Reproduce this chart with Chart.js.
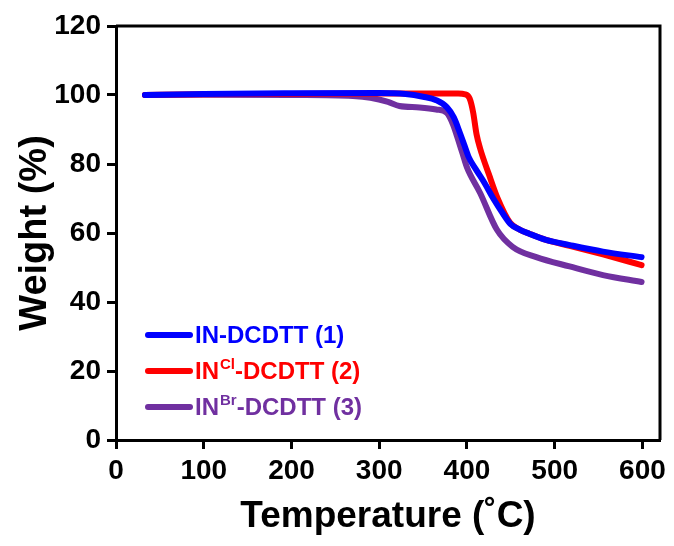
<!DOCTYPE html>
<html>
<head>
<meta charset="utf-8">
<title>TGA curves</title>
<script src="https://cdn.jsdelivr.net/npm/chart.js@4.4.1/dist/chart.umd.min.js"></script>
<style>
  html, body { margin: 0; padding: 0; background: #fff; }
  #wrap { width: 674px; height: 546px; }
</style>
</head>
<body>
<div id="wrap"><canvas id="tga"></canvas></div>
<script>
// Data
const xTicks = [0, 100, 200, 300, 400, 500, 600];

const tempBlue = [33, 100, 200, 300, 330, 350, 365, 377, 385, 392, 397, 402, 410, 420, 430, 440, 450, 460, 471, 490, 517, 555, 599];
const weightBlue = [100, 100.3, 100.5, 100.6, 100.3, 99.5, 98.5, 96.5, 93.5, 89, 85.5, 82, 78.5, 74.5, 70, 66, 62.5, 61, 59.8, 58, 56.5, 54.6, 53];

const tempRed = [33, 100, 200, 300, 350, 390, 398, 403, 407, 411, 415, 425, 435, 449, 460, 471, 490, 517, 555, 599];
const weightRed = [100, 100.2, 100.3, 100.4, 100.4, 100.4, 100.2, 99, 95, 88.5, 84.5, 77, 70, 63, 61, 59.8, 58, 56.3, 53.8, 50.7];

const tempPurple = [33, 100, 200, 270, 290, 310, 323, 346, 365, 377, 384, 390, 395, 400, 415, 434, 452, 479, 517, 555, 599];
const weightPurple = [100, 100.1, 100, 99.7, 99.2, 98, 96.8, 96.4, 95.8, 94.8, 91.5, 87, 83, 79, 71.6, 61, 56, 53, 50.3, 47.8, 45.8];

// legend text pieces: base, superscript, rest
const nameBase = ['IN', 'IN', 'IN'];
const nameSup = ['', 'Cl', 'Br'];
const nameRest = ['-DCDTT (1)', '-DCDTT (2)', '-DCDTT (3)'];
const colors = ['#0000ff', '#ff0000', '#7030a0'];

const FONT = '"Liberation Sans", Arial, sans-serif';

function toPoints(xs, ys) {
    return xs.map(function (x, i) { return { x: x, y: ys[i] }; });
}

function lineSet(xs, ys, color, label) {
    return {
        label: label,
        data: toPoints(xs, ys),
        borderColor: color,
        borderWidth: 6,
        borderCapStyle: 'round',
        borderJoinStyle: 'round',
        pointRadius: 0,
        fill: false,
        cubicInterpolationMode: 'monotone'
    };
}

// Box around the plot (top and right edges)
const framePlugin = {
    id: 'frame',
    afterDraw(chart) {
        const a = chart.chartArea;
        const ctx = chart.ctx;
        ctx.save();
        ctx.strokeStyle = '#000';
        ctx.lineWidth = 3;
        ctx.beginPath();
        ctx.moveTo(a.left, a.top);
        ctx.lineTo(a.right, a.top);
        ctx.lineTo(a.right, a.bottom);
        ctx.stroke();
        ctx.restore();
    }
};

// Legend with superscripts
const legendPlugin = {
    id: 'supLegend',
    afterDatasetsDraw(chart) {
        const a = chart.chartArea;
        const ctx = chart.ctx;
        ctx.save();
        ctx.textBaseline = 'middle';
        ctx.textAlign = 'left';
        for (let i = 0; i < nameBase.length; i++) {
            const y = a.top + 309 + i * 36;
            const x0 = a.left + 32;
            ctx.strokeStyle = colors[i];
            ctx.lineWidth = 6;
            ctx.lineCap = 'round';
            ctx.beginPath();
            ctx.moveTo(x0, y);
            ctx.lineTo(x0 + 42, y);
            ctx.stroke();

            ctx.fillStyle = colors[i];
            let x = x0 + 47;
            ctx.font = 'bold 24px ' + FONT;
            ctx.fillText(nameBase[i], x, y + 1);
            x += ctx.measureText(nameBase[i]).width;
            if (nameSup[i]) {
                ctx.font = 'bold 15px ' + FONT;
                ctx.fillText(nameSup[i], x + 1, y - 6);
                x += ctx.measureText(nameSup[i]).width + 1;
            }
            ctx.font = 'bold 24px ' + FONT;
            ctx.fillText(nameRest[i], x, y + 1);
        }
        ctx.restore();
    }
};

new Chart(document.getElementById('tga'), {
    type: 'line',
    data: {
        datasets: [
            lineSet(tempBlue, weightBlue, colors[0], 'IN-DCDTT (1)'),
            lineSet(tempRed, weightRed, colors[1], 'INCl-DCDTT (2)'),
            lineSet(tempPurple, weightPurple, colors[2], 'INBr-DCDTT (3)')
        ]
    },
    options: {
        responsive: true,
        maintainAspectRatio: false,
        animation: false,
        layout: { padding: { left: 0, top: 26, right: 14, bottom: 0 } },
        plugins: {
            legend: { display: false },
            tooltip: { enabled: false }
        },
        scales: {
            x: {
                type: 'linear',
                min: 0,
                max: 620,
                afterBuildTicks: function (scale) {
                    scale.ticks = xTicks.map(function (v) { return { value: v }; });
                },
                afterFit: function (scale) { scale.height = 106; },
                border: { display: true, color: '#000', width: 3 },
                grid: { drawOnChartArea: false, drawTicks: true, tickLength: 9, tickWidth: 3, tickColor: '#000' },
                ticks: {
                    color: '#000',
                    padding: 5,
                    maxRotation: 0,
                    font: { family: FONT, size: 28, weight: 'bold' }
                },
                title: {
                    display: true,
                    text: 'Temperature (˚C)',
                    color: '#000',
                    padding: { top: 0, bottom: 7 },
                    font: { family: FONT, size: 37, weight: 'bold', lineHeight: 1.2 }
                }
            },
            y: {
                type: 'linear',
                min: 0,
                max: 120,
                afterFit: function (scale) { scale.width = 116; },
                border: { display: true, color: '#000', width: 3 },
                grid: { drawOnChartArea: false, drawTicks: true, tickLength: 9, tickWidth: 3, tickColor: '#000' },
                ticks: {
                    stepSize: 20,
                    color: '#000',
                    padding: 6,
                    font: { family: FONT, size: 28, weight: 'bold' }
                },
                title: {
                    display: true,
                    text: 'Weight (%)',
                    color: '#000',
                    padding: { top: 13, bottom: 0 },
                    font: { family: FONT, size: 38, weight: 'bold', lineHeight: 1.2 }
                }
            }
        }
    },
    plugins: [framePlugin, legendPlugin]
});
</script>
</body>
</html>
